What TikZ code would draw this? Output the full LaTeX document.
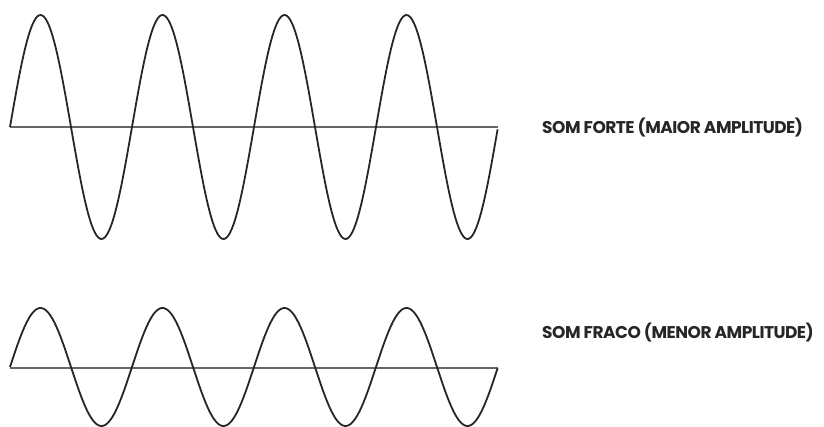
\documentclass[tikz,border=0pt]{standalone}
\usepackage{fontspec}
\setmainfont{Poppins}
\begin{document}
\begin{tikzpicture}[x=1pt,y=1pt,
  wave/.style={line width=1.8pt,draw=black!85,line join=round},
  axisline/.style={line width=1.2pt,draw=black!60},
  lbl/.style={anchor=west,inner sep=0pt,font=\fontsize{17}{19}\selectfont\bfseries,text=black!85}]
\useasboundingbox (0,0) rectangle (824,426);
% top (strong) wave
\coordinate (ta) at (10,299);
\coordinate (tb) at (498,299);
\draw[axisline] (ta) -- (tb);
\draw[wave] plot[domain=0:4,samples=300] ({10+122*\x},{299+112*sin(\x*360)});
\node[lbl] (forte) at (542,298) {\addfontfeature{LetterSpace=-3}SOM FORTE (MAIOR AMPLITUDE)};
% bottom (weak) wave
\coordinate (ba) at (10,58);
\coordinate (bb) at (498,58);
\draw[axisline] (ba) -- (bb);
\draw[wave] plot[domain=0:4,samples=300] ({10+122*\x},{59+59*sin(\x*360)});
\node[lbl] (fraco) at (542,93) {\addfontfeature{LetterSpace=-3}SOM FRACO (MENOR AMPLITUDE)};
\end{tikzpicture}
\end{document}
